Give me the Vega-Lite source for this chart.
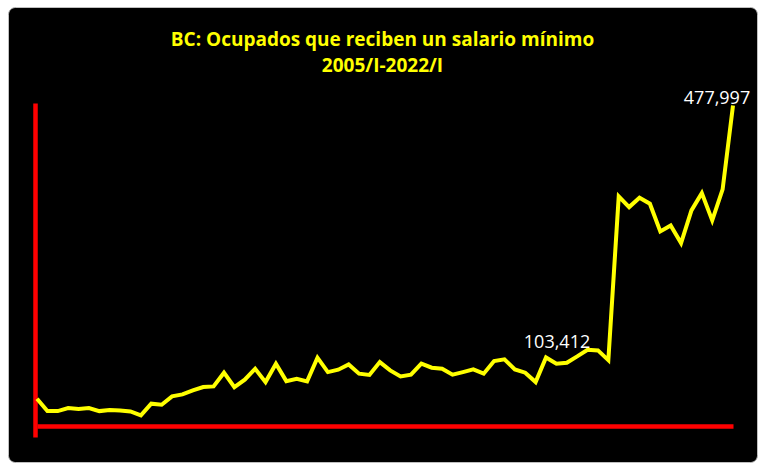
{
  "$schema": "https://vega.github.io/schema/vega-lite/v6.json",
  "autosize": "none",
  "width": 749,
  "height": 455,
  "padding": {"left": 8, "top": 7, "right": 13, "bottom": 14},
  "background": "white",
  "title": {
    "text": ["BC: Ocupados que reciben un salario mínimo", "2005/I-2022/I"],
    "color": "#ffff00",
    "font": "Open Sans",
    "fontSize": 19,
    "fontWeight": "bold",
    "lineHeight": 26,
    "anchor": "middle",
    "baseline": "top",
    "offset": -69
  },
  "config": {
    "view": {"fill": "black", "stroke": "#bfbfbf", "strokeWidth": 1, "cornerRadius": 7},
    "axis": {"domainColor": "#ff0000", "domainWidth": 4.5, "ticks": false, "labels": false, "grid": false, "title": null}
  },
  "data": {
    "values": [
      {"trimestre": "2005/I", "ocupados": 42065},
      {"trimestre": "2005/II", "ocupados": 23634},
      {"trimestre": "2005/III", "ocupados": 23634},
      {"trimestre": "2005/IV", "ocupados": 28093},
      {"trimestre": "2006/I", "ocupados": 26607},
      {"trimestre": "2006/II", "ocupados": 28093},
      {"trimestre": "2006/III", "ocupados": 23634},
      {"trimestre": "2006/IV", "ocupados": 25120},
      {"trimestre": "2007/I", "ocupados": 24674},
      {"trimestre": "2007/II", "ocupados": 23188},
      {"trimestre": "2007/III", "ocupados": 17242},
      {"trimestre": "2007/IV", "ocupados": 34633},
      {"trimestre": "2008/I", "ocupados": 33147},
      {"trimestre": "2008/II", "ocupados": 45484},
      {"trimestre": "2008/III", "ocupados": 48457},
      {"trimestre": "2008/IV", "ocupados": 54402},
      {"trimestre": "2009/I", "ocupados": 59307},
      {"trimestre": "2009/II", "ocupados": 60348},
      {"trimestre": "2009/III", "ocupados": 80712},
      {"trimestre": "2009/IV", "ocupados": 59307},
      {"trimestre": "2010/I", "ocupados": 70307},
      {"trimestre": "2010/II", "ocupados": 86657},
      {"trimestre": "2010/III", "ocupados": 66739},
      {"trimestre": "2010/IV", "ocupados": 94089},
      {"trimestre": "2011/I", "ocupados": 68226},
      {"trimestre": "2011/II", "ocupados": 71793},
      {"trimestre": "2011/III", "ocupados": 67780},
      {"trimestre": "2011/IV", "ocupados": 103008},
      {"trimestre": "2012/I", "ocupados": 81603},
      {"trimestre": "2012/II", "ocupados": 85171},
      {"trimestre": "2012/III", "ocupados": 93049},
      {"trimestre": "2012/IV", "ocupados": 79225},
      {"trimestre": "2013/I", "ocupados": 77441},
      {"trimestre": "2013/II", "ocupados": 96467},
      {"trimestre": "2013/III", "ocupados": 84130},
      {"trimestre": "2013/IV", "ocupados": 75212},
      {"trimestre": "2014/I", "ocupados": 77739},
      {"trimestre": "2014/II", "ocupados": 94089},
      {"trimestre": "2014/III", "ocupados": 88144},
      {"trimestre": "2014/IV", "ocupados": 86657},
      {"trimestre": "2015/I", "ocupados": 77739},
      {"trimestre": "2015/II", "ocupados": 81603},
      {"trimestre": "2015/III", "ocupados": 85617},
      {"trimestre": "2015/IV", "ocupados": 79225},
      {"trimestre": "2016/I", "ocupados": 97954},
      {"trimestre": "2016/II", "ocupados": 100481},
      {"trimestre": "2016/III", "ocupados": 85617},
      {"trimestre": "2016/IV", "ocupados": 80712},
      {"trimestre": "2017/I", "ocupados": 66739},
      {"trimestre": "2017/II", "ocupados": 103412},
      {"trimestre": "2017/III", "ocupados": 94089},
      {"trimestre": "2017/IV", "ocupados": 95575},
      {"trimestre": "2018/I", "ocupados": 104940},
      {"trimestre": "2018/II", "ocupados": 114899},
      {"trimestre": "2018/III", "ocupados": 113858},
      {"trimestre": "2018/IV", "ocupados": 99440},
      {"trimestre": "2019/I", "ocupados": 342764},
      {"trimestre": "2019/II", "ocupados": 326859},
      {"trimestre": "2019/III", "ocupados": 340832},
      {"trimestre": "2019/IV", "ocupados": 331913},
      {"trimestre": "2020/I", "ocupados": 290740},
      {"trimestre": "2020/III", "ocupados": 299658},
      {"trimestre": "2020/IV", "ocupados": 273349},
      {"trimestre": "2021/I", "ocupados": 321954},
      {"trimestre": "2021/II", "ocupados": 347669},
      {"trimestre": "2021/III", "ocupados": 307090},
      {"trimestre": "2021/IV", "ocupados": 353169},
      {"trimestre": "2022/I", "ocupados": 477997}
    ]
  },
  "encoding": {
    "x": {
      "field": "trimestre",
      "type": "ordinal",
      "sort": null,
      "scale": {"type": "point", "range": [29, 725], "padding": 0},
      "axis": {"orient": "bottom", "offset": -36}
    },
    "y": {
      "field": "ocupados",
      "type": "quantitative",
      "scale": {"domain": [-14864, 481600], "range": [430, 96], "nice": false, "zero": false},
      "axis": {"orient": "left", "offset": -27}
    }
  },
  "layer": [
    {
      "mark": {"type": "line", "color": "#ffff00", "strokeWidth": 4, "strokeJoin": "miter"}
    },
    {
      "transform": [{"filter": "datum.trimestre == '2022/I'"}],
      "mark": {"type": "text", "color": "white", "font": "Open Sans", "fontSize": 18, "align": "center", "baseline": "alphabetic", "dx": -16, "dy": -1},
      "encoding": {"text": {"field": "ocupados", "type": "quantitative", "format": ","}}
    },
    {
      "transform": [{"filter": "datum.trimestre == '2017/II'"}],
      "mark": {"type": "text", "color": "white", "font": "Open Sans", "fontSize": 18, "align": "center", "baseline": "alphabetic", "dx": 11, "dy": -9},
      "encoding": {"text": {"field": "ocupados", "type": "quantitative", "format": ","}}
    }
  ]
}
